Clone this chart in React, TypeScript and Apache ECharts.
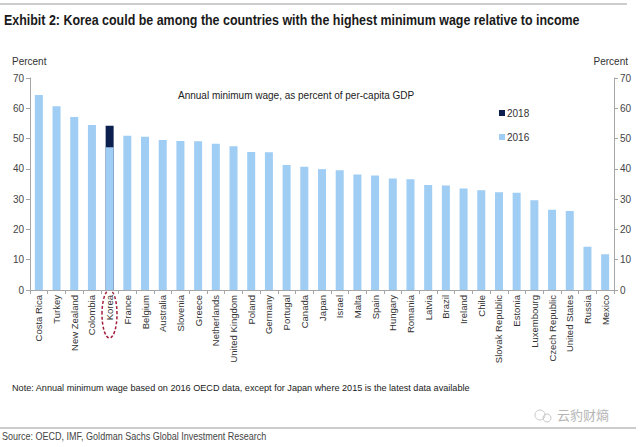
import React, { useEffect, useRef } from "react";
import * as echarts from "echarts";

const countries = [
  "Costa Rica", "Turkey", "New Zealand", "Colombia", "Korea", "France", "Belgium",
  "Australia", "Slovenia", "Greece", "Netherlands", "United Kingdom", "Poland",
  "Germany", "Portugal", "Canada", "Japan", "Israel", "Malta", "Spain", "Hungary",
  "Romania", "Latvia", "Brazil", "Ireland", "Chile", "Slovak Republic", "Estonia",
  "Luxembourg", "Czech Republic", "United States", "Russia", "Mexico",
];

const values2016 = [
  64.4, 60.7, 57.1, 54.5, 47.1, 50.9, 50.6, 49.5, 49.2, 49.1, 48.3, 47.5, 45.6,
  45.5, 41.3, 40.7, 39.9, 39.5, 38.1, 37.8, 36.8, 36.6, 34.7, 34.5, 33.5, 32.9,
  32.3, 32.1, 29.6, 26.5, 26.1, 14.3, 11.8,
];

const values2018 = countries.map((c) => (c === "Korea" ? 54.2 : null));

const yTicks = { min: 0, max: 70, interval: 10 };

const SANS = "'Liberation Sans', Arial, sans-serif";

export default function App() {
  const ref = useRef<HTMLDivElement>(null);
  useEffect(() => {
    if (!ref.current) return;
    const chart = echarts.init(ref.current, undefined, { renderer: "svg" });
    const yAxisBase = {
      type: "value" as const,
      min: yTicks.min,
      max: yTicks.max,
      interval: yTicks.interval,
      splitLine: { show: false },
      axisLine: { show: true, lineStyle: { color: "#a6a6a6" } },
      axisTick: { show: true, length: 4, lineStyle: { color: "#a6a6a6" } },
      axisLabel: { color: "#444", fontSize: 10, fontFamily: SANS, margin: 6 },
    };
    chart.setOption({
      animation: false,
      backgroundColor: "#ffffff",
      grid: { left: 30, right: 26, top: 78, bottom: 157, containLabel: false },
      legend: {
        orient: "vertical",
        left: 494,
        top: 103,
        itemWidth: 6,
        itemHeight: 6,
        itemGap: 14,
        data: ["2018", "2016"],
        icon: "rect",
        textStyle: { fontSize: 10, color: "#333", fontFamily: SANS, padding: [0, 0, 0, -3] },
      },
      xAxis: {
        type: "category",
        data: countries,
        axisLine: { show: true, lineStyle: { color: "#a6a6a6" } },
        axisTick: { show: true, length: 4, alignWithLabel: false, lineStyle: { color: "#a6a6a6" } },
        axisLabel: {
          interval: 0,
          rotate: 90,
          fontSize: 9.5,
          color: "#333",
          fontFamily: SANS,
          margin: 5,
        },
      },
      yAxis: [
        { ...yAxisBase, position: "left" },
        { ...yAxisBase, position: "right" },
      ],
      series: [
        {
          name: "2018",
          type: "bar",
          data: values2018,
          barWidth: 8,
          barGap: "-100%",
          itemStyle: { color: "#0d1f4f" },
          z: 2,
        },
        {
          name: "2016",
          type: "bar",
          data: values2016,
          barWidth: 8,
          itemStyle: { color: "#9fcdf3" },
          z: 3,
        },
      ],
      graphic: [
        { type: "line", shape: { x1: 0, y1: 4, x2: 627, y2: 4 }, style: { stroke: "#9a9a9a", lineWidth: 1 } },
        {
          type: "text",
          x: 4,
          y: 13,
          scaleX: 0.83,
          style: {
            text: "Exhibit 2: Korea could be among the countries with the highest minimum wage relative to income",
            font: `bold 15px ${SANS}`,
            fill: "#1a1a1a",
          },
        },
        { type: "text", left: 12, top: 56, style: { text: "Percent", font: `10px ${SANS}`, fill: "#333" } },
        { type: "text", right: 12, top: 56, style: { text: "Percent", font: `10px ${SANS}`, fill: "#333" } },
        {
          type: "text",
          left: 178,
          top: 90,
          style: { text: "Annual minimum wage, as percent of per-capita GDP", font: `10px ${SANS}`, fill: "#222" },
        },
        {
          type: "ellipse",
          shape: { cx: 109.5, cy: 314, rx: 7.5, ry: 24 },
          style: { fill: "none", stroke: "#a31f3c", lineWidth: 1.5, lineDash: [3, 2] },
        },
        {
          type: "text",
          x: 12,
          y: 383,
          scaleX: 0.96,
          style: {
            text: "Note: Annual minimum wage based on 2016 OECD data, except for Japan where 2015 is the latest data available",
            font: `9.5px ${SANS}`,
            fill: "#222",
          },
        },
        {
          type: "text",
          left: 557,
          top: 408,
          style: { text: "云豹财熵", font: `13px 'Noto Sans CJK SC', sans-serif`, fill: "#b5b5b5" },
        },
        {
          type: "circle",
          shape: { cx: 540, cy: 415, r: 5 },
          style: { fill: "none", stroke: "#c8c8c8", lineWidth: 1 },
        },
        {
          type: "circle",
          shape: { cx: 547, cy: 418, r: 4 },
          style: { fill: "none", stroke: "#c8c8c8", lineWidth: 1 },
        },
        { type: "line", shape: { x1: 0, y1: 428, x2: 636, y2: 428 }, style: { stroke: "#9a9a9a", lineWidth: 1 } },
        {
          type: "text",
          x: 2,
          y: 431,
          scaleX: 0.82,
          style: {
            text: "Source: OECD, IMF, Goldman Sachs Global Investment Research",
            font: `11px ${SANS}`,
            fill: "#444",
          },
        },
      ],
    });
    return () => chart.dispose();
  }, []);
  return <div ref={ref} style={{ width: 640, height: 447, position: "absolute", left: 0, top: 0 }} />;
}
